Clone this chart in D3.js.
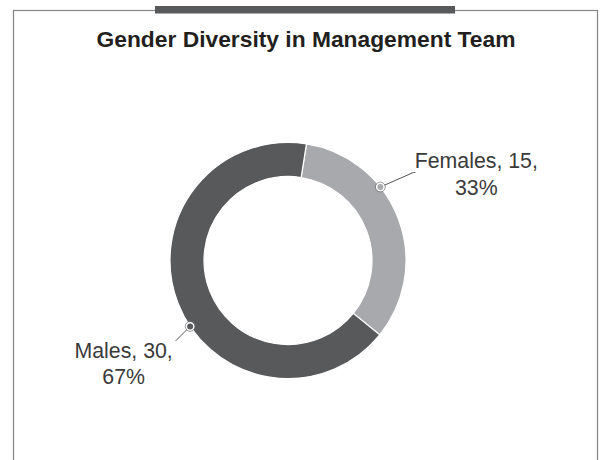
<!DOCTYPE html>
<html>
<head>
<meta charset="utf-8">
<script src="https://cdn.jsdelivr.net/npm/d3@7"></script>
<style>
  html, body { margin: 0; padding: 0; background: #fff; }
  svg { display: block; }
</style>
</head>
<body>
<svg id="chart" width="600" height="460"></svg>
<script>
// Management team headcount by gender
const title = "Gender Diversity in Management Team";
const categories = ["Females", "Males"];
const counts = [15, 30];
const colors = ["#a7a9ac", "#58595b"];
// where along each slice the label marker sits (0 = slice start, 1 = slice end)
const anchorFraction = [0.354, 0.446];
// leader line run from marker to label (dx, dy)
const leaderRun = [[33, -14.5], [-14.5, 14.5]];
const leaderTail = [2, 0];
const labelAnchor = ["middle", "middle"];

const W = 600, H = 460;
const svg = d3.select("#chart");
const font = "'Liberation Sans', Arial, Helvetica, sans-serif";

// frame
svg.append("rect")
  .attr("x", 13.5).attr("y", 10.5)
  .attr("width", 584).attr("height", 470)
  .attr("fill", "none")
  .attr("stroke", "#8a8a8a")
  .attr("stroke-width", 1.3);

// accent bar on top of the frame
svg.append("rect")
  .attr("x", 155).attr("y", 6)
  .attr("width", 300).attr("height", 7.5)
  .attr("fill", "#58595b");

svg.append("text")
  .attr("x", 306).attr("y", 47)
  .attr("text-anchor", "middle")
  .attr("font-family", font)
  .attr("font-weight", "bold")
  .attr("font-size", 22.8)
  .attr("fill", "#231f20")
  .text(title);

// donut
const cx = 288, cy = 260.5;
const rOuter = 118, rInner = 84;
const startOffset = 9 * Math.PI / 180;

const data = categories.map((c, i) => ({ name: c, value: counts[i], i }));
const total = d3.sum(counts);

const pie = d3.pie()
  .value(d => d.value)
  .sort(null)
  .startAngle(startOffset)
  .endAngle(startOffset + 2 * Math.PI);

const arcs = pie(data);
const arc = d3.arc().innerRadius(rInner).outerRadius(rOuter);

const g = svg.append("g").attr("transform", `translate(${cx},${cy})`);

g.selectAll("path.slice")
  .data(arcs)
  .join("path")
  .attr("class", "slice")
  .attr("d", arc)
  .attr("fill", d => colors[d.data.i])
  .attr("stroke", "#ffffff")
  .attr("stroke-width", 1.2);

// labels with leader lines
const pct = d3.format(".0%");
arcs.forEach(a => {
  const i = a.data.i;
  const ang = a.startAngle + (a.endAngle - a.startAngle) * anchorFraction[i];
  const mx = Math.sin(ang) * rOuter;
  const my = -Math.cos(ang) * rOuter;
  const ex = mx + leaderRun[i][0];
  const ey = my + leaderRun[i][1];

  g.append("polyline")
    .attr("points", [[mx, my], [ex, ey], [ex + leaderTail[i], ey]].map(p => p.join(",")).join(" "))
    .attr("fill", "none")
    .attr("stroke", "#555")
    .attr("stroke-width", 1);

  g.append("circle")
    .attr("cx", mx).attr("cy", my).attr("r", 3.8)
    .attr("fill", colors[i])
    .attr("stroke", "#ffffff")
    .attr("stroke-width", 1.6);
  g.append("circle")
    .attr("cx", mx).attr("cy", my).attr("r", 4.9)
    .attr("fill", "none")
    .attr("stroke", "#6d6e70")
    .attr("stroke-width", 0.7);

  const lines = [`${a.data.name}, ${a.data.value},`, pct(a.data.value / total)];
  let tx, ty;
  if (i === 0) { // label to the right, starting at the line end
    tx = ex + leaderTail[i] + 61; ty = ey - 4.3;
  } else {       // label below-left, ending at the line end
    tx = ex - 52; ty = ey + 17;
  }
  const t = g.append("text")
    .attr("text-anchor", labelAnchor[i])
    .attr("font-family", font)
    .attr("font-size", 21.3)
    .attr("fill", "#3a3a3a");
  lines.forEach((s, k) => {
    t.append("tspan").attr("x", tx).attr("y", ty + k * 26.5).text(s);
  });
});
</script>
</body>
</html>
